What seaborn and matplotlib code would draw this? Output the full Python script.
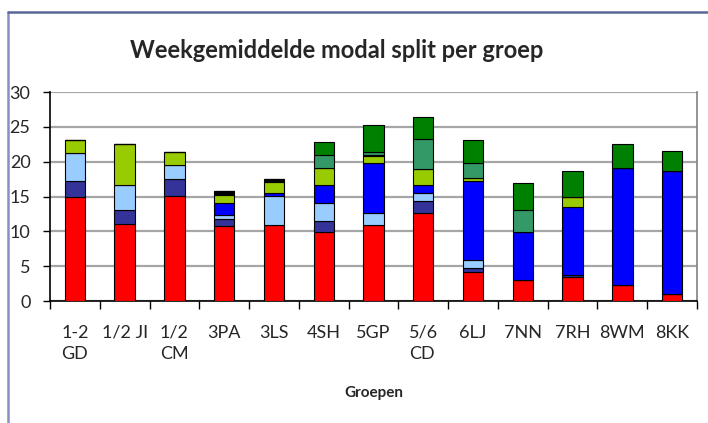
import numpy as np
import matplotlib
matplotlib.use('Agg')
import matplotlib.pyplot as plt
from matplotlib.lines import Line2D
from matplotlib.ticker import MultipleLocator
import seaborn as sns

sns.set_style('white')
plt.rcParams['font.family'] = ['Lato', 'DejaVu Sans']

# Groepen en waarden per vervoerswijze (van onder naar boven gestapeld)
groepen = ['1-2\nGD', '1/2 JI', '1/2\nCM', '3PA', '3LS', '4SH', '5GP', '5/6\nCD',
           '6LJ', '7NN', '7RH', '8WM', '8KK']
rood = [15.0, 11.0, 15.1, 10.7, 10.9, 9.9, 10.9, 12.7, 4.1, 3.0, 3.5, 2.3, 1.0]
donkerblauw = [2.2, 2.1, 2.4, 1.0, 0.0, 1.6, 0.0, 1.7, 0.7, 0.0, 0.3, 0.0, 0.0]
lichtblauw = [4.1, 3.5, 2.0, 0.6, 4.2, 2.6, 1.8, 1.1, 1.1, 0.0, 0.0, 0.0, 0.0]
blauw = [0.0, 0.0, 0.0, 1.7, 0.4, 2.6, 7.1, 1.2, 11.3, 6.9, 9.7, 16.8, 17.6]
geelgroen = [1.8, 6.0, 1.9, 1.2, 1.6, 2.4, 1.0, 2.2, 0.4, 0.0, 1.5, 0.0, 0.0]
zwart = [0.0, 0.0, 0.0, 0.6, 0.4, 0.0, 0.2, 0.0, 0.0, 0.0, 0.0, 0.0, 0.0]
zeegroen = [0.0, 0.0, 0.0, 0.0, 0.0, 1.8, 0.4, 4.4, 2.2, 3.2, 0.0, 0.0, 0.0]
groen = [0.0, 0.0, 0.0, 0.0, 0.0, 1.9, 3.8, 3.1, 3.3, 3.8, 3.7, 3.4, 3.0]

reeksen = [rood, donkerblauw, lichtblauw, blauw, geelgroen, zwart, zeegroen, groen]
kleuren = ['#ff0000', '#333399', '#99ccff', '#0000ff', '#99cc00', '#000000',
           '#339966', '#008000']

fig = plt.figure(figsize=(7.08, 4.23), dpi=100)
ax = fig.add_axes([50 / 708, 1 - 301 / 423, 647 / 708, 209 / 423])

onder = np.zeros(len(groepen))
for waarden, kleur in zip(reeksen, kleuren):
    sns.barplot(x=groepen, y=waarden, bottom=onder, color=kleur, width=0.41,
                edgecolor='black', linewidth=0.8, saturation=1, ax=ax, zorder=3)
    onder = onder + np.array(waarden)

ax.set_ylim(0, 30)
ax.set_xlim(-0.5, len(groepen) - 0.5)
ax.yaxis.set_major_locator(MultipleLocator(5))
ax.grid(axis='y', color='#a6a6a6', linewidth=1.6, zorder=0)
ax.set_axisbelow(True)

for s in ['left', 'bottom']:
    ax.spines[s].set_color('black')
    ax.spines[s].set_linewidth(1.2)
ax.spines['top'].set_visible(False)
ax.spines['right'].set_color('#808080')
ax.spines['right'].set_linewidth(1.2)

ax.tick_params(axis='y', length=5, width=1, color='black', pad=9, labelsize=13,
               direction='out', left=True)
ax.set_xticks(np.arange(len(groepen)))
ax.set_xticklabels(groepen, fontsize=13, multialignment='left', va='top',
                   linespacing=1.45)
ax.tick_params(axis='x', length=0, pad=17)
ax.set_xticks(np.arange(-0.5, len(groepen)), minor=True)
ax.tick_params(axis='x', which='minor', length=6, width=1, color='black',
               direction='out', bottom=True)

ax.set_xlabel('Groepen', fontsize=11, fontweight='bold', labelpad=17)
ax.set_ylabel('')
fig.text(337 / 708, 1 - 50 / 423, 'Weekgemiddelde modal split per groep',
         fontsize=17, fontweight='bold', ha='center', va='center')

# kader rond de grafiek
fig.add_artist(Line2D([8 / 708, 8 / 708], [0, 1 - 12 / 423], color='#8a8fc0', linewidth=1.8))
fig.add_artist(Line2D([8 / 708, 1], [1 - 12 / 423, 1 - 12 / 423], color='#5a6696', linewidth=1.8))

fig.savefig('out.png', dpi=100)
